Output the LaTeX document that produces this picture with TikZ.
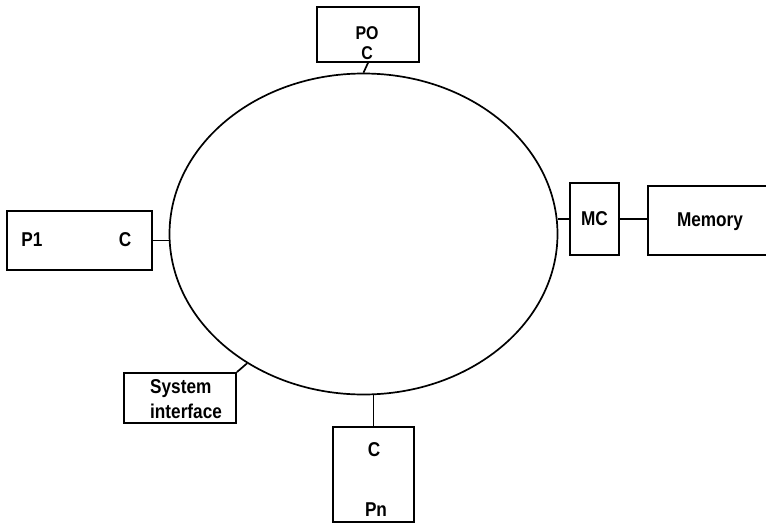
\documentclass[tikz,border=0pt]{standalone}
\usepackage{fontspec}
\setmainfont[FakeStretch=0.86]{Liberation Sans}
\usetikzlibrary{shapes.geometric}
\begin{document}
\begin{tikzpicture}[x=1pt,y=-1pt,
  box/.style={draw, line width=1.8pt, inner sep=0pt, minimum width=#1},
  lbl/.style={inner sep=0pt, font=\fontsize{20}{20}\selectfont\bfseries},
  wire/.style={line width=1.7pt}]
\clip (0,0) rectangle (766,525);
\fill[white] (0,0) rectangle (766,525);
% ring
\node[draw, line width=1.7pt, ellipse, inner sep=0pt, minimum width=388pt, minimum height=321pt] (ring) at (363.5,234) {};
% boxes
\node[box=102pt, minimum height=55pt] (P0) at (368,34.5) {};
\node[box=145pt, minimum height=59pt] (P1) at (79.5,240.5) {};
\node[box=49pt, minimum height=72pt] (MC) at (594.5,219) {};
\node[box=124pt, minimum height=69pt] (Mem) at (710,220.5) {};
\node[box=112pt, minimum height=50pt] (SI) at (180,398) {};
\node[box=81pt, minimum height=95pt] (Pn) at (373.5,474.5) {};
% labels
\node[lbl, anchor=base, align=center, font=\fontsize{18.5}{20.5}\selectfont\bfseries] (tP0) at (367,59.5) {PO\\C};
\node[lbl, anchor=base] (tP1) at (32,246) {P1};
\node[lbl, anchor=base] (tP1c) at (125,246) {C};
\node[lbl, anchor=base] (tMC) at (594.5,225) {MC};
\node[lbl, anchor=base] (tMem) at (710,226) {Memory};
\node[lbl, anchor=base west, align=left, font=\fontsize{20}{25}\selectfont\bfseries] (tSI) at (150,418) {System\\interface};
\node[lbl, anchor=base] (tPnc) at (374,456) {C};
\node[lbl, anchor=base] (tPn) at (376,516) {Pn};
% connectors
\draw[wire] (P0.south) -- (ring.north);
\draw[wire] (P1.east) -- (P1.east -| ring.west);
\draw[wire] (MC.west) -- (MC.west -| ring.east);
\draw[wire] (MC.east) -- (MC.east -| Mem.west);
\draw[wire] (SI.north east) -- (ring.228);
\draw[wire] (Pn.north) -- (Pn.north |- ring.south);
\end{tikzpicture}
\end{document}
